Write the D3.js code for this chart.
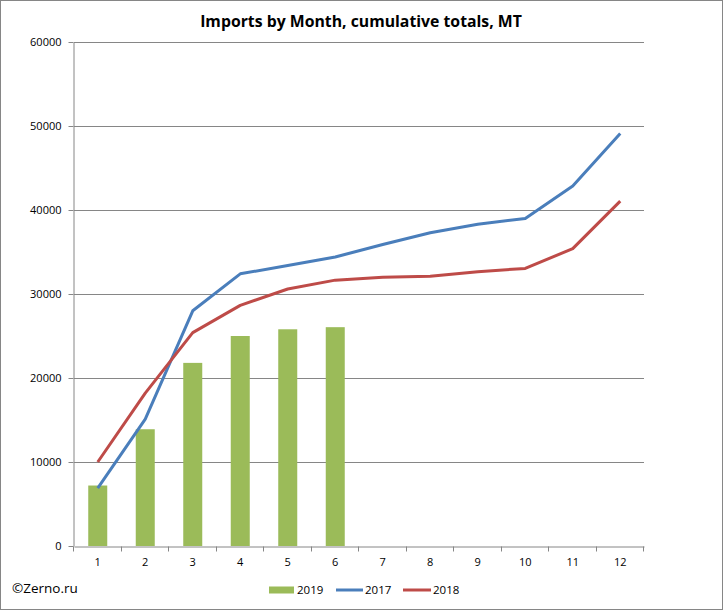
<!DOCTYPE html>
<html>
<head>
<meta charset="utf-8">
<script src="https://cdn.jsdelivr.net/npm/d3@7"></script>
<style>
  body { margin: 0; background: #fff; }
  svg text { font-family: "Open Sans", "DejaVu Sans", sans-serif; }
</style>
</head>
<body>
<svg id="chart" width="723" height="610"></svg>
<script>
// Data
const months = ["1", "2", "3", "4", "5", "6", "7", "8", "9", "10", "11", "12"];
const imports2019 = [7200, 13900, 21800, 25000, 25800, 26050];
const imports2017 = [6900, 15100, 28000, 32400, 33400, 34400, 35900, 37300, 38300, 39000, 42850, 49100];
const imports2018 = [10000, 18200, 25400, 28650, 30600, 31650, 32000, 32100, 32650, 33050, 35400, 41050];
const yTicks = [0, 10000, 20000, 30000, 40000, 50000, 60000];

const width = 723, height = 610;
const margin = { top: 42, right: 79, bottom: 64, left: 74 };

const svg = d3.select("#chart");

// outer frame
svg.append("rect")
  .attr("x", 0.5).attr("y", 0.5)
  .attr("width", width - 1).attr("height", height - 1)
  .attr("fill", "#fff")
  .attr("stroke", "#868686");

const x = d3.scaleBand()
  .domain(months)
  .range([margin.left, width - margin.right]);

const y = d3.scaleLinear()
  .domain([0, 60000])
  .range([height - margin.bottom, margin.top]);

// gridlines
svg.append("g")
  .selectAll("line")
  .data(yTicks.slice(1))
  .join("line")
  .attr("x1", margin.left).attr("x2", width - margin.right)
  .attr("y1", d => Math.round(y(d)) + 0.5)
  .attr("y2", d => Math.round(y(d)) + 0.5)
  .attr("stroke", "#868686");

// y axis
const yAxis = svg.append("g")
  .attr("transform", `translate(${margin.left - 0.5},0)`)
  .call(d3.axisLeft(y).tickValues(yTicks).tickFormat(d3.format("d")).tickSize(5).tickSizeOuter(0));
yAxis.select(".domain").attr("stroke", "#868686");
yAxis.selectAll(".tick line").attr("stroke", "#868686");
yAxis.selectAll(".tick text")
  .attr("x", -12)
  .attr("fill", "#000")
  .style("font-size", "11px");

// bars 2019
svg.append("g")
  .selectAll("rect")
  .data(imports2019)
  .join("rect")
  .attr("x", (d, i) => x(months[i]) + x.bandwidth() * 0.3)
  .attr("width", x.bandwidth() * 0.4)
  .attr("y", d => y(d))
  .attr("height", d => y(0) - y(d))
  .attr("fill", "#9bbb59");

// x axis
const xAxis = svg.append("g")
  .attr("transform", `translate(0,${Math.round(y(0)) + 0.5})`)
  .call(d3.axisBottom(x).tickSize(0).tickPadding(12));
xAxis.select(".domain").attr("stroke", "#868686");
xAxis.selectAll(".tick text").attr("fill", "#000").style("font-size", "11px");
// tick marks between categories
xAxis.append("g")
  .selectAll("line")
  .data(months.concat(["end"]))
  .join("line")
  .attr("x1", (d, i) => Math.round(margin.left + i * x.step()) - 0.5)
  .attr("x2", (d, i) => Math.round(margin.left + i * x.step()) - 0.5)
  .attr("y1", 0).attr("y2", 5)
  .attr("stroke", "#868686");

// lines
const line = d3.line()
  .x((d, i) => x(months[i]) + x.bandwidth() / 2)
  .y(d => y(d));

svg.append("path")
  .datum(imports2017)
  .attr("d", line)
  .attr("fill", "none")
  .attr("stroke", "#4a7ebb")
  .attr("stroke-width", 3)
  .attr("stroke-linejoin", "round");

svg.append("path")
  .datum(imports2018)
  .attr("d", line)
  .attr("fill", "none")
  .attr("stroke", "#be4b48")
  .attr("stroke-width", 3)
  .attr("stroke-linejoin", "round");

// title
svg.append("text")
  .attr("x", 361)
  .attr("y", 27)
  .attr("text-anchor", "middle")
  .style("font-size", "15.8px")
  .style("font-weight", "bold")
  .text("Imports by Month, cumulative totals, MT");

// copyright
svg.append("text")
  .attr("x", 12)
  .attr("y", 593)
  .style("font-size", "13.5px")
  .text("©Zerno.ru");

// legend
const legend = svg.append("g").attr("transform", "translate(0,590)");
legend.append("rect")
  .attr("x", 269).attr("y", -3.5).attr("width", 25).attr("height", 7)
  .attr("fill", "#9bbb59");
legend.append("text").attr("x", 297).attr("y", 4).style("font-size", "11.5px").text("2019");
legend.append("line")
  .attr("x1", 336).attr("x2", 363).attr("y1", 0).attr("y2", 0)
  .attr("stroke", "#4a7ebb").attr("stroke-width", 3);
legend.append("text").attr("x", 365).attr("y", 4).style("font-size", "11.5px").text("2017");
legend.append("line")
  .attr("x1", 403).attr("x2", 431).attr("y1", 0).attr("y2", 0)
  .attr("stroke", "#be4b48").attr("stroke-width", 3);
legend.append("text").attr("x", 433).attr("y", 4).style("font-size", "11.5px").text("2018");
</script>
</body>
</html>
